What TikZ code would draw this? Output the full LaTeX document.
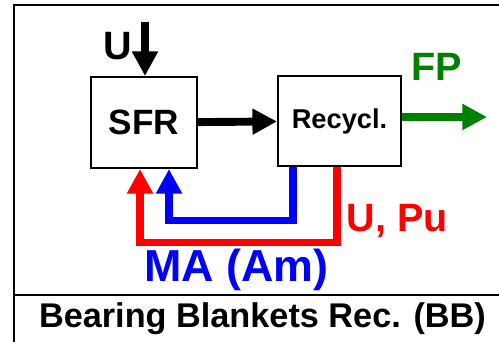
\documentclass[tikz,border=0pt]{standalone}
\usepackage{fontspec}
\setmainfont{Liberation Sans}
\usetikzlibrary{arrows.meta, positioning, calc}
\usepackage{xcolor}
\definecolor{vermelho}{RGB}{255, 0, 0}
\definecolor{azul}{RGB}{0, 0, 255}
\definecolor{verde}{RGB}{0, 128, 0}
\tikzset{
  caixa/.style={
    draw, line width=1.1pt, minimum width=2.12cm, minimum height=1.82cm,
    font=\bfseries, text centered, inner sep=3pt
  },
  rotulo/.style={font=\bfseries\fontsize{22.5}{26}\selectfont, anchor=base, inner sep=0pt},
  seta/.style={-{Triangle[length=14pt, width=14pt]}, line width=4.5pt},
  retorno/.style={-{Triangle[length=14pt, width=14pt]}, line width=4pt},
  moldura/.style={line width=1.1pt},
}

\begin{document}
\begin{tikzpicture}

\useasboundingbox (0,0) rectangle (9.98,6.84);

% frame
\draw[moldura] (0.28,0) -- (0.28,6.74) -- (9.98,6.74);
\draw[moldura] (0.28,0.94) -- (9.98,0.94);

\node[caixa, font=\bfseries\fontsize{20}{22}\selectfont] (sfr) at (2.88,4.39) {SFR};

\node[caixa, minimum width=2.46cm, minimum height=1.80cm,
      font=\bfseries\fontsize{15.5}{18}\selectfont] (recyc) at (6.79,4.42) {Recycl.};

\coordinate (uin) at (2.90,6.40);
\coordinate (fp) at (9.74,4.50);

\node[rotulo] (ulab) at (2.36,5.64) {U};
\node[rotulo, text=verde] (fplab) at (8.74,5.22) {FP};
\node[rotulo, text=vermelho] (upulab) at (7.95,2.20) {U, Pu};
\node[rotulo, text=azul, font=\bfseries\fontsize{25.5}{28}\selectfont] (malab) at (4.73,1.20) {MA (Am)};
\node[rotulo, font=\bfseries\fontsize{19.5}{22}\selectfont] (titulo) at (5.25,0.28)
{Bearing Blankets Rec. (BB)};

\draw[seta] (uin) -- (uin |- sfr.north);
\draw[seta] (sfr) -- (recyc);
\draw[seta, verde] ([yshift=0.08cm]recyc.east) -- (fp);
\draw[retorno, vermelho] ([xshift=-0.05cm]recyc.south) -- ++(0,-1.52) -| ([xshift=-0.08cm]sfr.south);
\draw[retorno, azul] ([xshift=-0.93cm]recyc.south) -- ++(0,-1.08) -| ([xshift=0.50cm]sfr.south);

\end{tikzpicture}
\end{document}
